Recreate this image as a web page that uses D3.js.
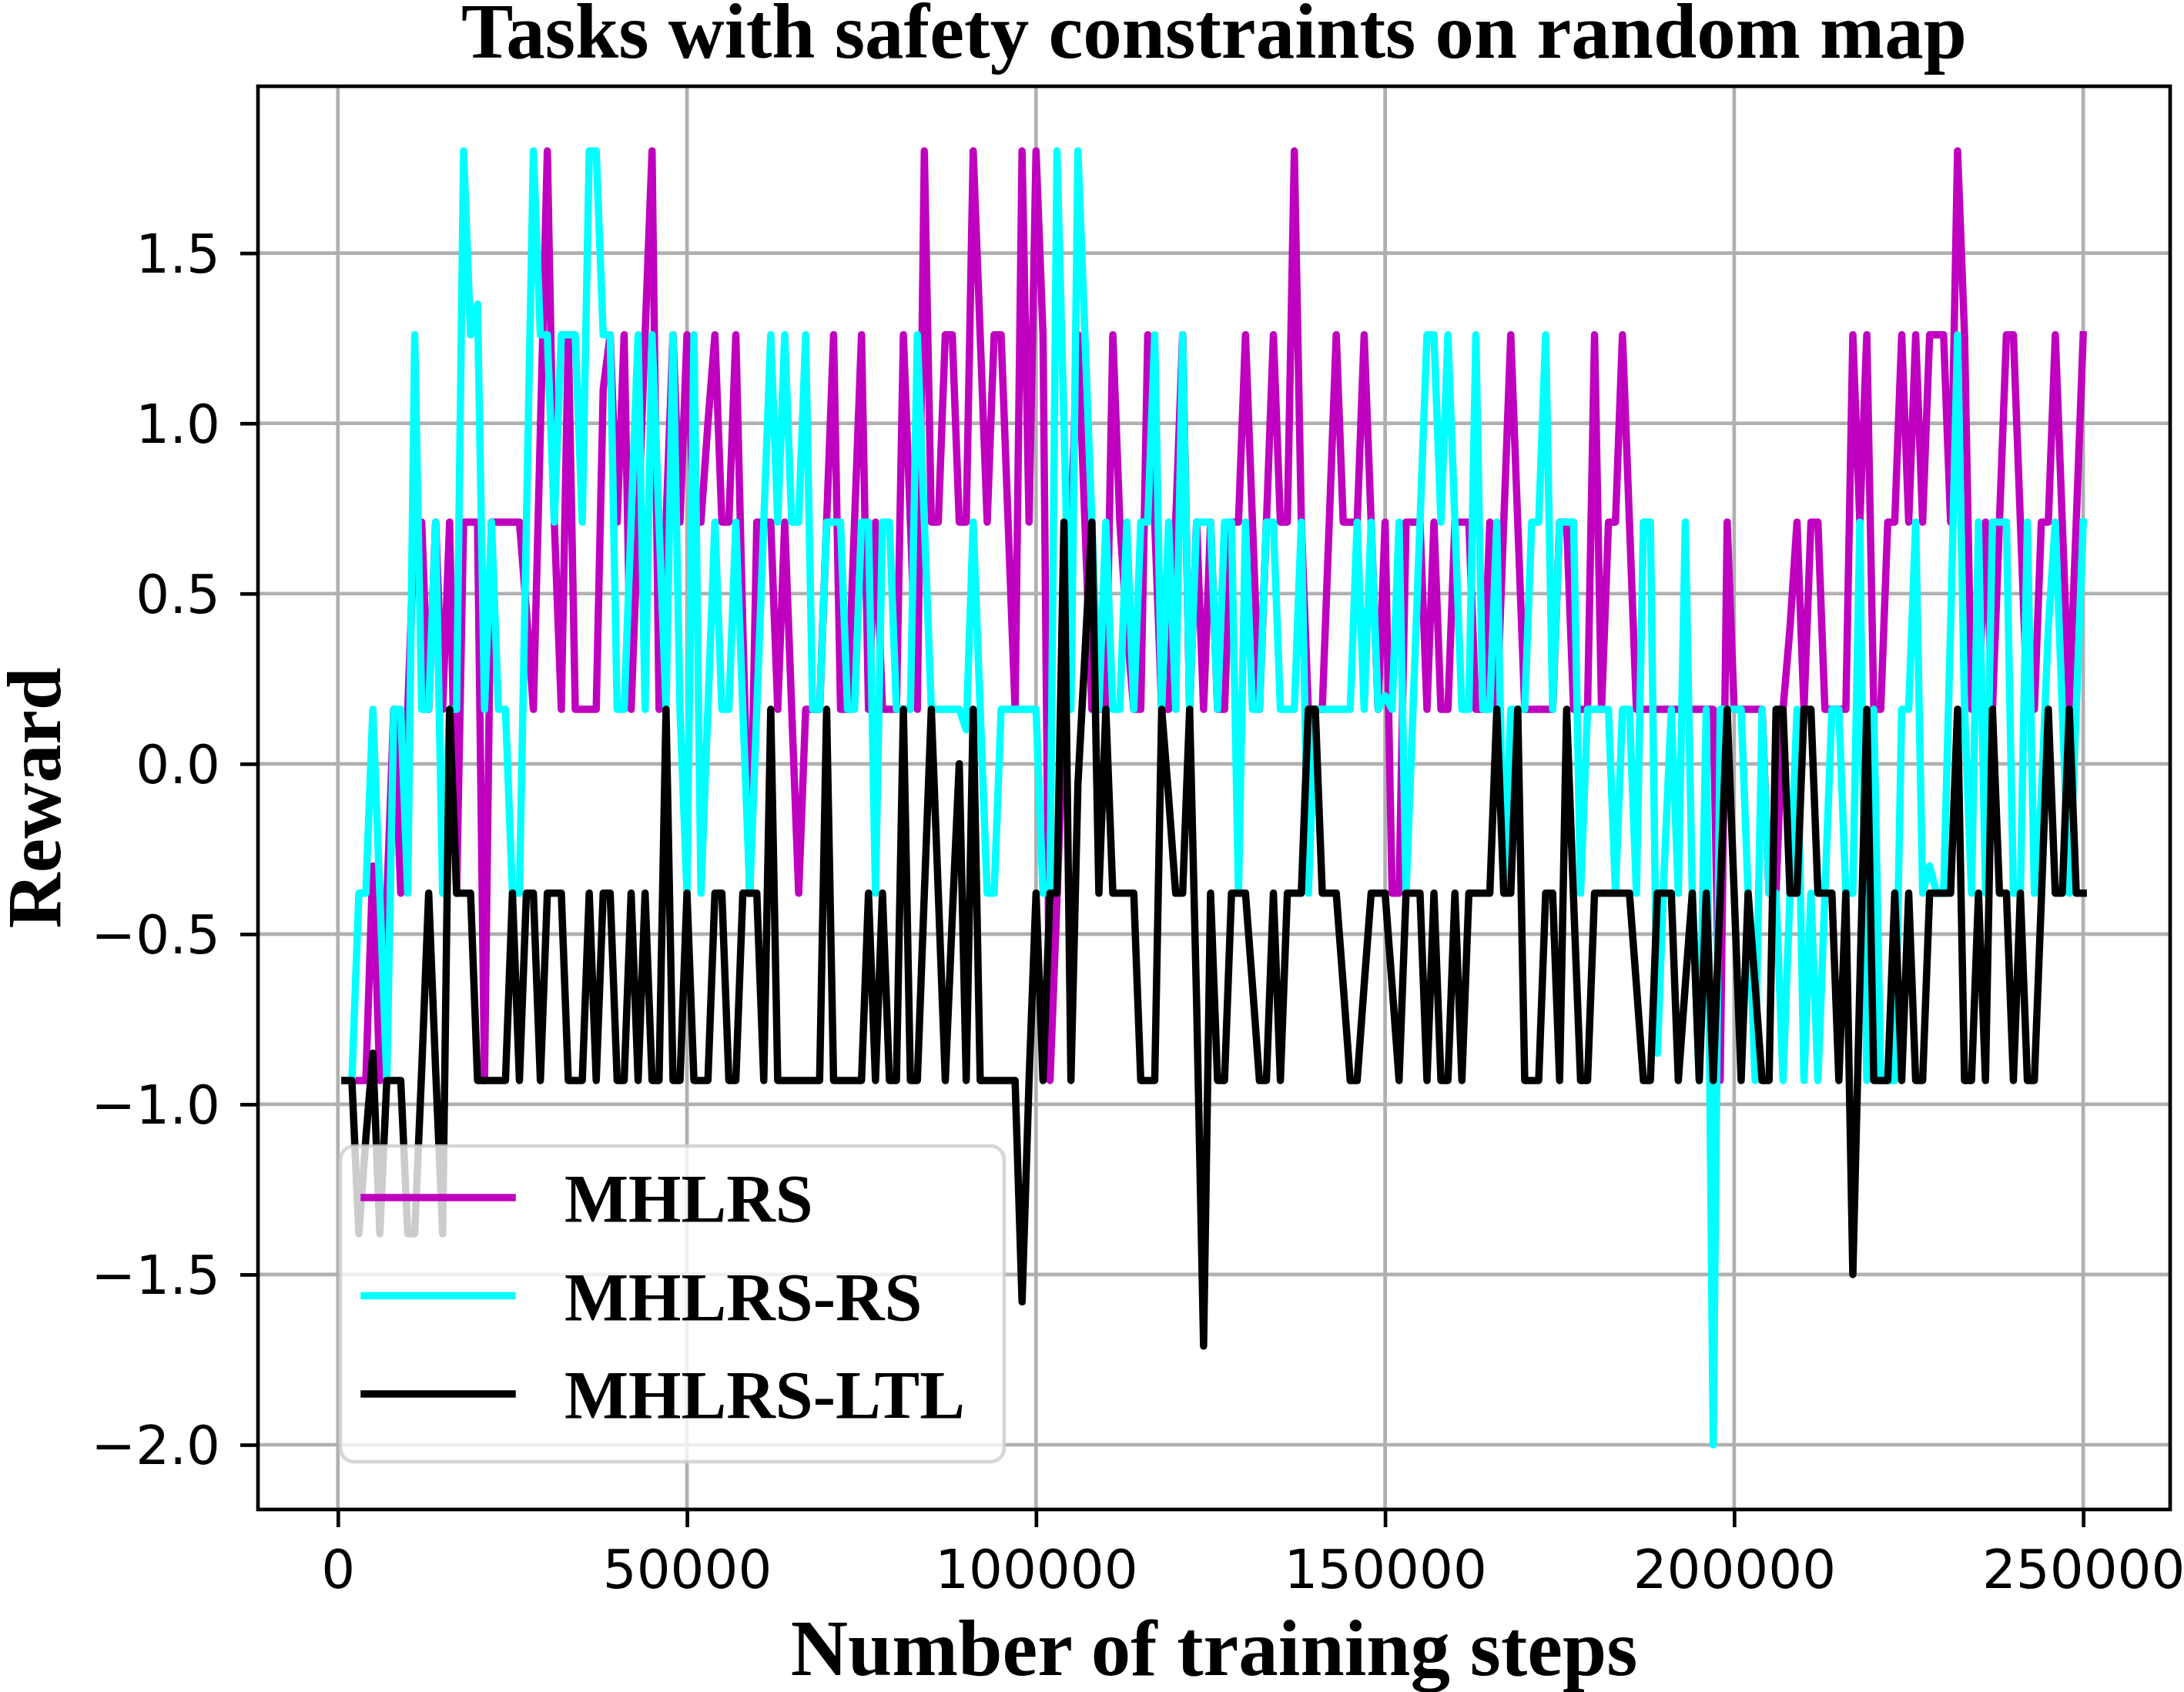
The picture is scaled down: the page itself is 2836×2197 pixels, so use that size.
<!DOCTYPE html>
<html>
<head>
<meta charset="utf-8">
<script src="https://cdn.jsdelivr.net/npm/d3@7"></script>
<style>
  body { margin: 0; background: #fff; }
  svg { display: block; }
</style>
</head>
<body>
<svg id="reward-chart"></svg>
<script>
const seriesNames = ['MHLRS', 'MHLRS-RS', 'MHLRS-LTL'];
const seriesColors = ['#bf00bf', '#00ffff', '#000000'];

// one logged value every 1000 training steps
const trainingSteps = d3.range(1000, 250001, 1000);

const mhlrs = [
  -0.93, -0.93, -0.93, -0.93, -0.3, -0.93, -0.4, 0.16, -0.38, 0.16,
  0.71, 0.71, 0.16, 0.71, 0.16, 0.71, -0.38, 0.71, 0.71, 0.71,
  -0.93, 0.71, 0.71, 0.71, 0.71, 0.71, 0.45, 0.16, 0.98, 1.8,
  0.71, 0.16, 1.26, 0.16, 0.16, 0.16, 0.16, 1.1, 1.26, 0.71,
  1.26, 0.16, 0.71, 1.26, 1.8, 0.16, 0.71, 1.26, 0.71, 1.26,
  0.71, 0.71, 1.0, 1.26, 0.71, 0.71, 1.26, 0.4, -0.38, 0.71,
  0.71, 0.71, 0.16, 0.71, 0.16, -0.38, 0.16, 0.16, 0.16, 0.71,
  1.26, 0.16, 0.16, 0.71, 1.26, 0.16, 0.71, 0.16, 0.16, 0.16,
  1.26, 0.71, 0.16, 1.8, 0.71, 0.71, 1.26, 1.26, 0.71, 0.71,
  1.8, 1.26, 0.71, 1.26, 1.26, 0.71, 0.16, 1.8, 0.71, 1.8,
  1.26, -0.93, -0.4, 0.16, 0.71, 1.26, 0.71, 0.16, 0.16, 0.16,
  1.26, 0.71, 0.4, 0.16, 0.16, 1.26, 0.71, 0.16, 0.16, 0.71,
  1.26, 0.16, 0.71, 0.16, 0.71, 0.16, 0.16, 0.71, 0.71, 1.26,
  0.71, 0.16, 0.71, 1.26, 0.71, 0.71, 1.8, 0.71, 0.16, 0.16,
  0.16, 0.71, 1.26, 0.71, 0.71, 0.71, 1.26, 0.71, 0.16, 0.71,
  -0.38, -0.38, 0.71, 0.71, 0.71, 0.16, 0.71, 0.16, 0.16, 0.71,
  0.71, 0.71, 0.16, 0.16, 0.71, 0.16, 0.71, 1.26, 0.71, 0.16,
  0.16, 0.16, 0.16, 0.16, 0.71, 0.71, 0.16, 0.16, 0.16, 1.26,
  0.16, 0.71, 0.71, 1.26, 0.71, 0.16, 0.16, 0.16, 0.16, 0.16,
  0.16, 0.16, 0.16, 0.16, 0.16, 0.16, 0.16, -0.93, 0.71, 0.16,
  0.16, 0.16, 0.16, 0.16, -0.38, -0.38, 0.16, 0.4, 0.71, 0.16,
  0.71, 0.71, 0.16, 0.16, 0.16, 0.16, 1.26, 0.71, 1.26, 0.16,
  0.16, 0.71, 0.71, 1.26, 0.71, 1.26, 0.71, 1.26, 1.26, 1.26,
  0.71, 1.8, 1.26, 0.16, 0.16, 0.71, 0.16, 0.71, 1.26, 1.26,
  0.71, 0.16, 0.16, 0.71, 0.71, 1.26, 0.71, 0.16, 0.71, 1.26
];

const mhlrsRs = [
  -0.93, -0.93, -0.38, -0.38, 0.16, -0.38, -0.93, 0.16, 0.16, -0.38,
  1.26, 0.16, 0.16, 0.71, -0.38, 0.16, 0.16, 1.8, 1.26, 1.35,
  0.16, 0.71, 0.16, 0.16, -0.38, -0.38, 0.71, 1.8, 1.26, 1.26,
  0.71, 1.26, 1.26, 1.26, 0.71, 1.8, 1.8, 1.26, 1.26, 0.16,
  0.16, 0.71, 1.26, 0.16, 1.26, 0.71, 0.16, 1.26, 0.16, -0.38,
  1.26, -0.38, 0.16, 0.71, 0.16, 0.16, 0.71, 0.16, -0.38, 0.16,
  0.71, 1.26, 0.71, 1.26, 0.71, 0.71, 1.26, 0.16, 0.16, 0.71,
  0.71, 0.71, 0.16, 0.16, 0.71, 0.71, -0.38, 0.71, 0.71, 0.16,
  0.16, 0.16, 1.26, 0.71, 0.16, 0.16, 0.16, 0.16, 0.16, 0.1,
  0.71, 0.16, -0.38, -0.38, 0.16, 0.16, 0.16, 0.16, 0.16, 0.16,
  -0.38, -0.38, 1.8, 1.0, 0.16, 1.8, 1.26, 0.71, 0.16, 0.71,
  0.16, 0.16, 0.71, 0.16, 0.71, 0.71, 1.26, 0.16, 0.71, 0.16,
  1.26, 0.16, 0.71, 0.71, 0.71, 0.16, 0.71, 0.71, -0.38, 0.71,
  0.16, 0.16, 0.71, 0.71, 0.16, 0.16, 0.16, 0.71, -0.38, 0.16,
  0.16, 0.16, 0.16, 0.16, 0.16, 0.71, 0.16, 0.71, 0.16, 0.2,
  0.16, 0.71, -0.38, 0.16, 0.71, 1.26, 1.26, 0.71, 1.26, 0.71,
  0.16, 0.16, 1.26, 0.16, 0.16, 0.71, -0.38, 0.16, 0.16, 0.16,
  0.71, 0.71, 1.26, 0.16, 0.71, 0.71, 0.71, -0.38, 0.16, 0.16,
  0.16, 0.16, -0.38, 0.16, 0.16, -0.38, 0.71, 0.71, -0.85, -0.3,
  0.16, -0.38, 0.71, -0.38, -0.93, 0.16, -2.0, 0.16, 0.16, 0.16,
  0.16, -0.38, -0.93, 0.16, -0.38, -0.38, -0.93, -0.38, 0.16, -0.93,
  -0.38, -0.93, -0.38, 0.16, 0.16, -0.38, -0.38, 0.71, -0.93, 0.16,
  -0.93, -0.93, -0.93, 0.16, 0.16, 0.71, -0.38, -0.3, -0.38, -0.38,
  0.4, 1.26, 0.16, -0.38, 0.71, -0.38, 0.71, 0.71, 0.71, -0.38,
  -0.38, 0.71, -0.38, -0.1, 0.4, 0.71, 0.16, -0.38, 0.16, 0.71
];

const mhlrsLtl = [
  -0.93, -0.93, -1.38, -1.1, -0.85, -1.38, -0.93, -0.93, -0.93, -1.38,
  -1.38, -0.9, -0.38, -0.9, -1.38, 0.16, -0.38, -0.38, -0.38, -0.93,
  -0.93, -0.93, -0.93, -0.93, -0.38, -0.93, -0.38, -0.38, -0.93, -0.38,
  -0.38, -0.38, -0.93, -0.93, -0.93, -0.38, -0.93, -0.38, -0.38, -0.93,
  -0.93, -0.38, -0.93, -0.38, -0.93, -0.93, 0.16, -0.93, -0.93, -0.38,
  -0.93, -0.93, -0.93, -0.38, -0.38, -0.93, -0.93, -0.38, -0.38, -0.38,
  -0.93, 0.16, -0.93, -0.93, -0.93, -0.93, -0.93, -0.93, -0.93, 0.16,
  -0.93, -0.93, -0.93, -0.93, -0.93, -0.38, -0.93, -0.38, -0.93, -0.93,
  0.16, -0.93, -0.93, -0.38, 0.16, -0.38, -0.93, -0.45, 0.0, -0.93,
  0.16, -0.93, -0.93, -0.93, -0.93, -0.93, -0.93, -1.58, -0.93, -0.38,
  -0.93, -0.38, -0.38, 0.71, -0.93, -0.06, 0.32, 0.71, -0.38, 0.16,
  -0.38, -0.38, -0.38, -0.38, -0.93, -0.93, -0.93, 0.16, -0.1, -0.38,
  -0.38, 0.16, -0.7, -1.71, -0.38, -0.93, -0.93, -0.38, -0.38, -0.38,
  -0.65, -0.93, -0.93, -0.38, -0.93, -0.38, -0.38, -0.38, 0.16, 0.16,
  -0.38, -0.38, -0.38, -0.65, -0.93, -0.93, -0.65, -0.38, -0.38, -0.38,
  -0.65, -0.93, -0.38, -0.38, -0.38, -0.93, -0.38, -0.93, -0.93, -0.38,
  -0.93, -0.38, -0.38, -0.38, -0.38, 0.16, -0.38, -0.38, 0.16, -0.93,
  -0.93, -0.93, -0.38, -0.38, -0.93, 0.16, -0.4, -0.93, -0.93, -0.38,
  -0.38, -0.38, -0.38, -0.38, -0.38, -0.65, -0.93, -0.93, -0.38, -0.38,
  -0.38, -0.93, -0.65, -0.38, -0.93, -0.38, -0.93, -0.38, 0.16, -0.38,
  -0.93, -0.38, -0.65, -0.93, -0.93, 0.16, 0.16, -0.38, -0.38, 0.16,
  0.16, -0.38, -0.38, -0.38, -0.93, -0.38, -1.5, -0.65, 0.16, -0.93,
  -0.93, -0.93, -0.38, -0.93, -0.38, -0.93, -0.93, -0.38, -0.38, -0.38,
  -0.38, 0.16, -0.93, -0.93, -0.38, -0.93, 0.16, -0.38, -0.38, -0.93,
  -0.38, -0.93, -0.93, -0.4, 0.16, -0.38, -0.38, 0.16, -0.38, -0.38
];

const xTickValues = [0, 50000, 100000, 150000, 200000, 250000];
const yTickValues = [-2.0, -1.5, -1.0, -0.5, 0.0, 0.5, 1.0, 1.5];

function drawRewardChart(id) {
  const totalWidth = 2836;
  const totalHeight = 2197;
  const margin = { top: 112, right: 18, bottom: 237, left: 335 };
  const LINE_WIDTH = 9.5;
  const THIN = 4.7;
  const SERIF = "'Liberation Serif', 'Times New Roman', serif";

  const svg = d3
    .select(id)
    .attr('width', totalWidth)
    .attr('height', totalHeight)
    .attr('viewBox', `0 0 ${totalWidth} ${totalHeight}`);

  const allSeries = [mhlrs, mhlrsRs, mhlrsLtl];

  // matplotlib style 5% margins around the data
  const padded = (ext) => {
    const p = (ext[1] - ext[0]) * 0.05;
    return [ext[0] - p, ext[1] + p];
  };
  const xDomain = padded(d3.extent(trainingSteps));
  const yDomain = padded(d3.extent(allSeries.flat()));

  const xScale = d3.scaleLinear(xDomain, [margin.left, totalWidth - margin.right]);
  const yScale = d3.scaleLinear(yDomain, [totalHeight - margin.bottom, margin.top]);

  const top = margin.top;
  const bottom = totalHeight - margin.bottom;
  const left = margin.left;
  const right = totalWidth - margin.right;

  /* grid */
  const gridG = svg.append('g');
  gridG
    .selectAll('.grid-x')
    .data(xTickValues)
    .enter()
    .append('line')
    .attr('stroke', '#b0b0b0')
    .attr('stroke-width', THIN)
    .attr('x1', (d) => xScale(d))
    .attr('x2', (d) => xScale(d))
    .attr('y1', top)
    .attr('y2', bottom);
  gridG
    .selectAll('.grid-y')
    .data(yTickValues)
    .enter()
    .append('line')
    .attr('stroke', '#b0b0b0')
    .attr('stroke-width', THIN)
    .attr('x1', left)
    .attr('x2', right)
    .attr('y1', (d) => yScale(d))
    .attr('y2', (d) => yScale(d));

  /* data lines */
  const line = d3
    .line()
    .x((d, i) => xScale(trainingSteps[i]))
    .y((d) => yScale(d));

  svg
    .append('g')
    .selectAll('path')
    .data(allSeries)
    .enter()
    .append('path')
    .attr('fill', 'none')
    .attr('stroke', (d, i) => seriesColors[i])
    .attr('stroke-width', LINE_WIDTH)
    .attr('stroke-linejoin', 'round')
    .attr('stroke-linecap', 'square')
    .attr('d', line);

  /* frame */
  svg
    .append('rect')
    .attr('x', left)
    .attr('y', top)
    .attr('width', right - left)
    .attr('height', bottom - top)
    .attr('fill', 'none')
    .attr('stroke', '#000')
    .attr('stroke-width', THIN);

  /* axes */
  const bottomAxis = d3
    .axisBottom(xScale)
    .tickValues(xTickValues)
    .tickFormat(d3.format('d'))
    .tickSize(23)
    .tickPadding(30);
  const xAxisG = svg
    .append('g')
    .attr('transform', `translate(0, ${bottom})`)
    .call(bottomAxis);

  const leftAxis = d3
    .axisLeft(yScale)
    .tickValues(yTickValues)
    .tickFormat(d3.format('.1f'))
    .tickSize(23)
    .tickPadding(26);
  const yAxisG = svg
    .append('g')
    .attr('transform', `translate(${left}, 0)`)
    .call(leftAxis);

  [xAxisG, yAxisG].forEach((g) => {
    g.select('.domain').remove();
    g.attr('font-family', "'DejaVu Sans', sans-serif").attr('font-size', 69);
    g.selectAll('.tick line').attr('stroke-width', THIN);
    g.selectAll('.tick text').attr('fill', '#000');
  });
  yAxisG.selectAll('.tick text').attr('dy', '0.36em');

  /* title and labels */
  svg
    .append('text')
    .attr('x', (left + right) / 2)
    .attr('y', 75)
    .attr('text-anchor', 'middle')
    .attr('font-family', SERIF)
    .attr('font-weight', 'bold')
    .attr('font-size', 101)
    .text('Tasks with safety constraints on random map');

  svg
    .append('text')
    .attr('x', (left + right) / 2)
    .attr('y', 2175)
    .attr('text-anchor', 'middle')
    .attr('font-family', SERIF)
    .attr('font-weight', 'bold')
    .attr('font-size', 103)
    .text('Number of training steps');

  svg
    .append('text')
    .attr('transform', `translate(78, ${(top + bottom) / 2}) rotate(-90)`)
    .attr('text-anchor', 'middle')
    .attr('font-family', SERIF)
    .attr('font-weight', 'bold')
    .attr('font-size', 100)
    .text('Reward');

  /* legend */
  const legendG = svg.append('g').attr('transform', 'translate(442, 1488)');
  legendG
    .append('rect')
    .attr('width', 862)
    .attr('height', 410)
    .attr('rx', 18)
    .attr('fill', '#fff')
    .attr('fill-opacity', 0.8)
    .attr('stroke', '#ccc')
    .attr('stroke-opacity', 0.8)
    .attr('stroke-width', THIN);

  const rows = legendG
    .selectAll('.legend-row')
    .data(seriesNames)
    .enter()
    .append('g')
    .attr('transform', (d, i) => `translate(0, ${67 + i * 127.5})`);
  rows
    .append('line')
    .attr('x1', 31)
    .attr('x2', 223)
    .attr('stroke', (d, i) => seriesColors[i])
    .attr('stroke-width', LINE_WIDTH)
    .attr('stroke-linecap', 'square');
  rows
    .append('text')
    .attr('x', 291)
    .attr('y', 31)
    .attr('font-family', SERIF)
    .attr('font-weight', 'bold')
    .attr('font-size', 88)
    .text((d) => d);
}

drawRewardChart('#reward-chart');
</script>
</body>
</html>
